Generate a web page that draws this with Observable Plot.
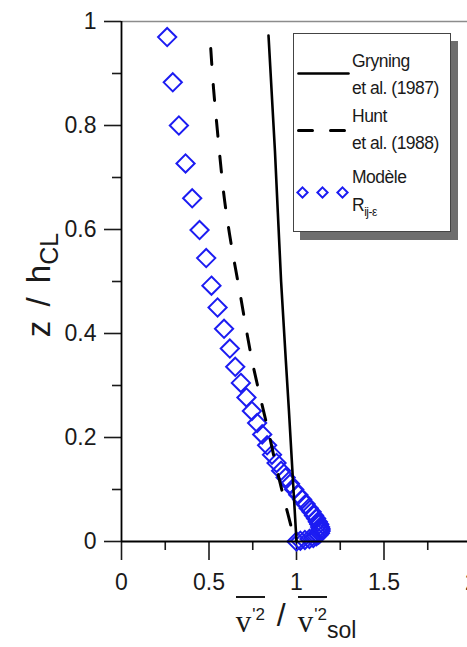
<!DOCTYPE html>
<html>
<head>
<meta charset="utf-8">
<script src="https://cdn.jsdelivr.net/npm/d3@7"></script>
<script src="https://cdn.jsdelivr.net/npm/@observablehq/plot@0.6"></script>
<style>
  html, body { margin: 0; padding: 0; background: #fff; overflow: hidden; }
  #wrap { position: relative; width: 467px; height: 647px; overflow: hidden; font-family: "Liberation Sans", Arial, sans-serif; color: #1a1a1a; }
  #chart svg { max-width: none !important; }
  #ylab { position: absolute; left: 38px; top: 285px; transform: translate(-50%, -50%) rotate(-90deg); white-space: nowrap; font-size: 33px; line-height: 1; word-spacing: 5px; }
  #ylab .sub { font-size: 25px; position: relative; top: 8px; }
  #xlab { position: absolute; left: 0; width: 592px; top: 596px; text-align: center; white-space: nowrap; line-height: 1; font-size: 28px; }
  #xlab .ob { display: inline-block; border-top: 2px solid #1a1a1a; padding-top: 8px; }
  #xlab .v { font-family: "Liberation Serif", "Times New Roman", serif; font-size: 31px; }
  #xlab .sup { font-size: 17px; position: relative; top: -12px; margin-left: 1px; }
  #xlab .slash { font-size: 32px; position: relative; top: -6px; margin: 0 12px; }
  #xlab .sol { font-size: 23px; position: relative; top: 6px; }
  #legend { position: absolute; left: 293px; top: 33px; width: 156px; height: 197px; border: 1px solid #444; background: #fff; box-shadow: 7px 8px 0 #6e6e6e; }
  .lt { position: absolute; font-size: 17.5px; letter-spacing: -0.5px; white-space: nowrap; line-height: 1; }
  .lt .sub { font-size: 12px; position: relative; top: 5px; }
  .sw { position: absolute; }
</style>
</head>
<body>
<div id="wrap">
  <div id="chart"></div>
  <div id="ylab"></div>
  <div id="xlab"></div>
  <div id="legend"></div>
</div>
<script>
// ---- data ----
const xTicks = [0, 0.5, 1, 1.5, 2];
const xTickLabels = ["0", "0.5", "1", "1.5", "2"];
const xMinor = [0.25, 0.75, 1.25, 1.75];
const yTicks = [0, 0.2, 0.4, 0.6, 0.8, 1];
const yTickLabels = ["0", "0.2", "0.4", "0.6", "0.8", "1"];
const yMinor = [0.1, 0.3, 0.5, 0.7, 0.9];

// Gryning et al. (1987)
const gryningZ = [0.973, 0.75, 0.5, 0.25, 0.0];
const gryningV = [0.84, 0.877, 0.912, 0.957, 1.0];

// Hunt et al. (1988)
const huntZ = [0.948, 0.871, 0.79, 0.727, 0.656, 0.592, 0.535, 0.472, 0.406, 0.34, 0.276, 0.208, 0.15, 0.083, 0.021, 0.0];
const huntV = [0.51, 0.526, 0.548, 0.566, 0.589, 0.617, 0.646, 0.68, 0.714, 0.751, 0.794, 0.842, 0.88, 0.928, 0.975, 0.99];

// Modèle Rij-ε
const modelZ = [0.970, 0.883, 0.800, 0.727, 0.660, 0.599, 0.545, 0.492, 0.450, 0.409, 0.371, 0.336, 0.305, 0.277, 0.251, 0.228, 0.206, 0.185, 0.167, 0.151, 0.136, 0.123, 0.111, 0.100, 0.090, 0.081, 0.072, 0.064, 0.057, 0.050, 0.044, 0.038, 0.033, 0.028, 0.024, 0.020, 0.016, 0.013, 0.010, 0.007, 0.005, 0.003, 0.0015, 0.0];
const modelV = [0.261, 0.293, 0.328, 0.366, 0.404, 0.446, 0.484, 0.514, 0.549, 0.586, 0.619, 0.650, 0.682, 0.714, 0.745, 0.775, 0.804, 0.832, 0.860, 0.886, 0.912, 0.938, 0.963, 0.987, 1.010, 1.032, 1.052, 1.070, 1.086, 1.100, 1.112, 1.122, 1.130, 1.135, 1.138, 1.138, 1.134, 1.126, 1.114, 1.096, 1.074, 1.048, 1.022, 1.0];

const legendLabels = [["Gryning", "et al. (1987)"], ["Hunt", "et al. (1988)"], ["Modèle", "R", "ij-ε"]];
const seriesNames = ["Gryning", "Hunt", "Modèle"];

const blue = "#1c1cf2";

const gryning = gryningZ.map((z, i) => ({z, v: gryningV[i]}));
const hunt = huntZ.map((z, i) => ({z, v: huntV[i]}));
const model = modelZ.map((z, i) => ({z, v: modelV[i]}));

const chart = Plot.plot({
  width: 475,
  height: 647,
  marginLeft: 121,
  marginRight: 4,
  marginTop: 21,
  marginBottom: 106,
  style: {fontFamily: "Liberation Sans, Arial, sans-serif", color: "#1a1a1a", background: "transparent", overflow: "visible"},
  x: {domain: [0, 2], label: null},
  y: {domain: [0, 1], label: null},
  marks: [
    Plot.ruleY([1], {stroke: "#8c8c8c", strokeWidth: 1.6}),
    Plot.axisX(xMinor, {tickSize: 9, text: null, strokeWidth: 1.6, label: null}),
    Plot.axisX(xTicks, {tickSize: 19, tickPadding: 13, fontSize: 23, strokeWidth: 1.6,
      tickFormat: d => xTickLabels[xTicks.indexOf(d)], label: null}),
    Plot.axisY(yMinor, {tickSize: 9, text: null, strokeWidth: 1.6, label: null}),
    Plot.axisY(yTicks, {tickSize: 17, tickPadding: 8, fontSize: 23, strokeWidth: 1.6,
      tickFormat: d => yTickLabels[yTicks.indexOf(d)], label: null}),
    Plot.dot(model, {x: "v", y: "z", symbol: "diamond2", r: 8.2, stroke: blue, strokeWidth: 2, fill: "none"}),
    Plot.line(hunt, {x: "v", y: "z", stroke: "black", strokeWidth: 3, strokeDasharray: "16,20", curve: "monotone-y"}),
    Plot.line(gryning, {x: "v", y: "z", stroke: "black", strokeWidth: 2.6, curve: "monotone-y"}),
    Plot.ruleX([0], {stroke: "black", strokeWidth: 1.8}),
    Plot.ruleY([0], {stroke: "black", strokeWidth: 1.8})
  ]
});
document.getElementById("chart").appendChild(chart);

// axis titles
document.getElementById("ylab").innerHTML = 'z / h<span class="sub">CL</span>';
document.getElementById("xlab").innerHTML =
  '<span class="ob"><span class="v">v</span><span class="sup">\'2</span></span>' +
  '<span class="slash">/</span>' +
  '<span class="ob"><span class="v">v</span><span class="sup">\'2</span></span><span class="sol">sol</span>';

// legend
const leg = document.getElementById("legend");
const textTops = [[19, 46], [74, 101], [135, 163]];
const swY = [39, 96, 158];
legendLabels.forEach((lines, k) => {
  const t1 = document.createElement("div");
  t1.className = "lt";
  t1.style.left = "58px"; t1.style.top = textTops[k][0] + "px";
  t1.textContent = lines[0];
  leg.appendChild(t1);
  const t2 = document.createElement("div");
  t2.className = "lt";
  t2.style.left = "58px"; t2.style.top = textTops[k][1] + "px";
  if (lines.length === 3) {
    t2.innerHTML = lines[1] + '<span class="sub">' + lines[2] + '</span>';
  } else t2.textContent = lines[1];
  leg.appendChild(t2);
});
// swatches (small Plot charts)
const swData = [0, 1, 2];
const sw = (k) => {
  const marks = [];
  if (k === 0) marks.push(Plot.lineX(swData, {x: d => d, y: 0, stroke: "black", strokeWidth: 2.6}));
  if (k === 1) marks.push(Plot.lineX(swData, {x: d => d, y: 0, stroke: "black", strokeWidth: 3, strokeDasharray: "14,18"}));
  if (k === 2) marks.push(Plot.dot(swData, {x: d => d, y: 0, symbol: "diamond2", r: 4.6, stroke: blue, strokeWidth: 2, fill: "none"}));
  const p = Plot.plot({
    width: 58, height: 16, margin: 0, marginLeft: k === 2 ? 8 : 4, marginRight: k === 2 ? 10 : 4,
    x: {domain: [0, 2], axis: null}, y: {domain: [-1, 1], axis: null},
    style: {background: "transparent", overflow: "visible"},
    marks
  });
  p.classList.add("sw");
  p.style.left = "0px"; p.style.top = (swY[k] - 8) + "px";
  leg.appendChild(p);
};
seriesNames.forEach((n, k) => sw(k));
</script>
</body>
</html>
